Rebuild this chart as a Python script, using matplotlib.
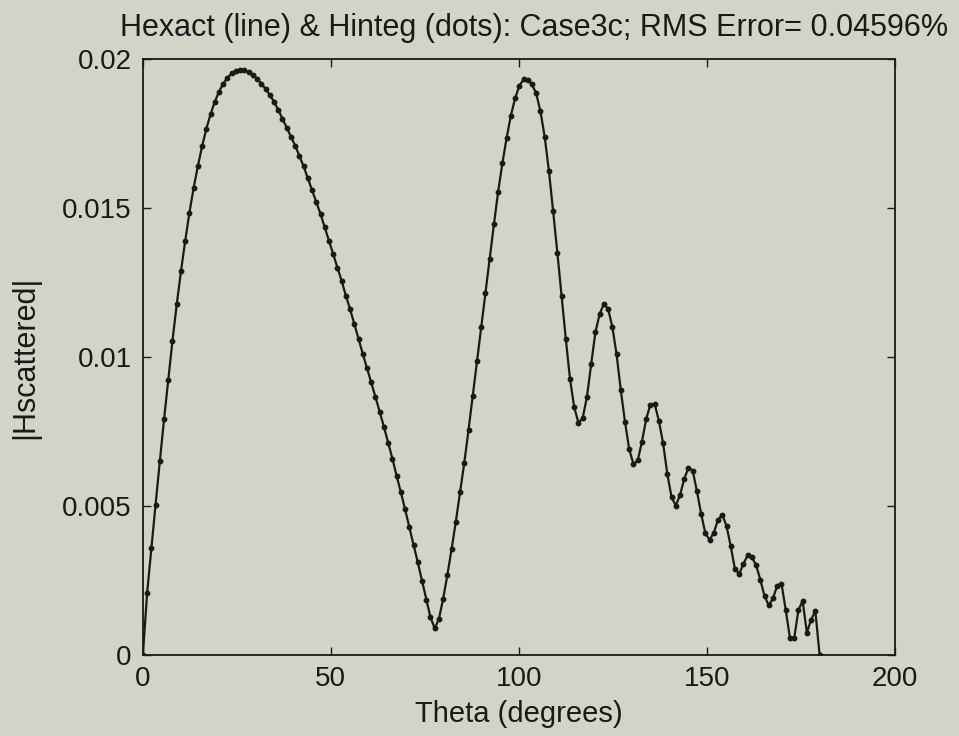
import numpy as np
import matplotlib.pyplot as plt

# |Hscattered|, one value per sample (0 to 180 degrees)
h_scattered = [
    0.0, 0.00207, 0.00357, 0.00504, 0.00649, 0.00790, 0.00924, 0.01055, 0.01176, 0.01287,
    0.01389, 0.01484, 0.01568, 0.01641, 0.01707, 0.01766, 0.01815, 0.01857, 0.01891, 0.01918,
    0.01938, 0.01952, 0.01959, 0.01962, 0.01962, 0.01957, 0.01948, 0.01935, 0.01918, 0.01900,
    0.01880, 0.01857, 0.01830, 0.01800, 0.01770, 0.01740, 0.01710, 0.01675, 0.01640, 0.01600,
    0.01560, 0.01520, 0.01480, 0.01435, 0.01390, 0.01345, 0.01300, 0.01255, 0.01205, 0.01160,
    0.01110, 0.01060, 0.01010, 0.00962, 0.00915, 0.00865, 0.00815, 0.00765, 0.00712, 0.00658,
    0.00600, 0.00545, 0.00488, 0.00428, 0.00368, 0.00310, 0.00248, 0.00185, 0.00125, 0.00088,
    0.00120, 0.00188, 0.00268, 0.00355, 0.00447, 0.00545, 0.00645, 0.00755, 0.00870, 0.00985,
    0.01100, 0.01215, 0.01330, 0.01445, 0.01555, 0.01650, 0.01735, 0.01810, 0.01868, 0.01910,
    0.01932, 0.01930, 0.01915, 0.01885, 0.01825, 0.01740, 0.01625, 0.01490, 0.01350, 0.01205,
    0.01060, 0.00925, 0.00830, 0.00778, 0.00795, 0.00866, 0.00976, 0.01083, 0.01144, 0.01178,
    0.01161, 0.01101, 0.01009, 0.00888, 0.00781, 0.00689, 0.00640, 0.00652, 0.00715, 0.00791,
    0.00840, 0.00842, 0.00786, 0.00710, 0.00607, 0.00529, 0.00500, 0.00536, 0.00590, 0.00628,
    0.00618, 0.00549, 0.00473, 0.00407, 0.00385, 0.00410, 0.00453, 0.00470, 0.00432, 0.00364,
    0.00286, 0.00272, 0.00304, 0.00335, 0.00327, 0.00300, 0.00251, 0.00196, 0.00165, 0.00190,
    0.00232, 0.00238, 0.00150, 0.00055, 0.00055, 0.00150, 0.00180, 0.00074, 0.00117, 0.00147,
    0.0,
]
theta_deg = np.linspace(0, 180, len(h_scattered))

x_ticks = [0, 50, 100, 150, 200]
y_ticks = [0, 0.005, 0.01, 0.015, 0.02]
y_tick_labels = ['0', '0.005', '0.01', '0.015', '0.02']

bg = '#d3d4c8'
ink = '#1c1818'
plt.rcParams['font.family'] = ['Liberation Sans', 'DejaVu Sans']

fig = plt.figure(figsize=(9.59, 7.36), dpi=100, facecolor=bg)
ax = fig.add_axes([0.149, 0.1106, 0.784, 0.809], facecolor=bg)

# exact solution as a line, integral-equation result as dots
ax.plot(theta_deg, h_scattered, color=ink, linewidth=1.6)
ax.plot(theta_deg, h_scattered, linestyle='none', marker='o', markersize=3.2, color=ink)

ax.set_xlim(0, 200)
ax.set_ylim(0, 0.02)
ax.set_xticks(x_ticks)
ax.set_yticks(y_ticks)
ax.set_yticklabels(y_tick_labels)
ax.tick_params(direction='in', length=6, width=1, top=True, right=True,
               labelsize=20, colors=ink, pad=8)
for s in ax.spines.values():
    s.set_linewidth(1.3)
    s.set_color(ink)

ax.set_title('Hexact (line) & Hinteg (dots): Case3c; RMS Error= 0.04596%',
             fontsize=22, color=ink, pad=17, x=0.52)
ax.set_xlabel('Theta (degrees)', fontsize=21, color=ink, labelpad=6)
ax.set_ylabel('|Hscattered|', fontsize=22, color=ink, labelpad=16)

fig.savefig('out.png', dpi=100, facecolor=bg)
